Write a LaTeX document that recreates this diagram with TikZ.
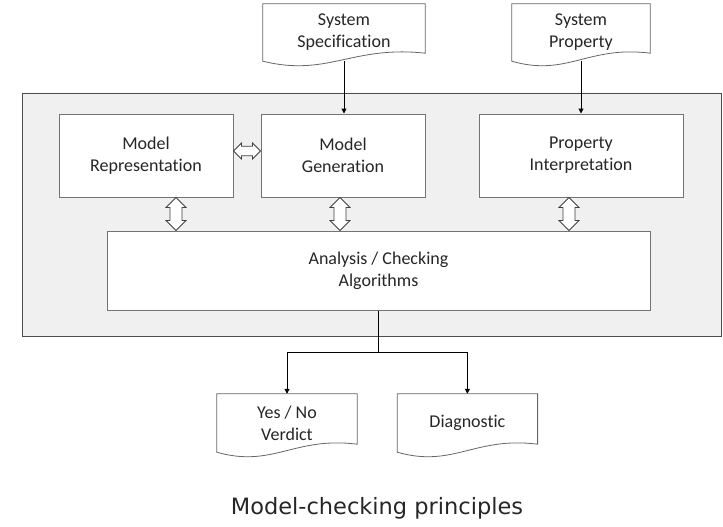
\documentclass[tikz,border=0pt]{standalone}
\usepackage{fontspec}
\setmainfont{Carlito}[Ligatures=NoCommon]
\newfontfamily\captionfont{DejaVu Sans}
\usetikzlibrary{arrows.meta, positioning, shapes.arrows, calc}

\begin{document}
\begin{tikzpicture}[
    x=1pt, y=-1pt, >={Triangle[length=5pt, width=5pt]},
    label text/.style={font=\fontsize{18}{22}\selectfont, text=black!85,
                       align=center},
    box/.style={label text, draw=black!55, line width=1pt, fill=white,
                inner sep=0pt},
    doc/.style={label text, inner sep=0pt},
    dblarrow/.style={double arrow, draw=black!75, fill=white,
                     line width=0.8pt, inner sep=5.5pt, minimum width=20pt,
                     double arrow head extend=4pt},
    link/.style={line width=1pt, black}
  ]
  \useasboundingbox (0,0) rectangle (723,527);

  % grey frame round the checker
  \node[draw=black!70, fill=black!6, line width=1pt, minimum width=699pt,
        minimum height=243pt] (frame) at (371.5,214.5) {};

  % inputs
  \node[doc, minimum width=162pt, minimum height=57pt] (spec) at (344,32.5)
    {System\\Specification};
  \node[doc, minimum width=138pt, minimum height=57pt] (prop) at (581,32.5)
    {System\\Property};

  % checker blocks
  \node[box, minimum width=174pt, minimum height=83pt] (rep) at (146,155.5)
    {Model\\Representation};
  \node[box, minimum width=164pt, minimum height=83pt] (gen) at (343,155.5)
    {Model\\Generation};
  \node[box, minimum width=204pt, minimum height=83pt] (interp) at (581,155.5)
    {Property\\Interpretation};
  \node[box, minimum width=543pt, minimum height=79pt] (check) at (378.5,270.5)
    {Analysis / Checking\\Algorithms};

  % outputs
  \node[doc, minimum width=140pt, minimum height=58pt] (verdict) at (287,423)
    {Yes / No\\Verdict};
  \node[doc, minimum width=140pt, minimum height=58pt,
        right=40pt of verdict] (diag) {Diagnostic};

  % document outlines with wavy bottom
  \foreach \d in {spec, prop, verdict, diag}
    \draw[draw=black!60, line width=0.8pt, fill=white]
      (\d.north west) -- (\d.north east) -- ([yshift=8pt]\d.south east)
      .. controls ($(\d.south west)!0.55!(\d.south east)+(0pt,16pt)$)
         and ($(\d.south west)!0.4!(\d.south east)+(0pt,-16pt)$) ..
      (\d.south west) -- cycle;
  \node[doc] at (spec) {System\\Specification};
  \node[doc] at (prop) {System\\Property};
  \node[doc] at (verdict) {Yes / No\\Verdict};
  \node[doc] at (diag) {Diagnostic};

  % hollow two-way arrows
  \node[dblarrow, minimum height=27pt, minimum width=16pt, inner sep=4pt,
        double arrow head extend=3pt] (repgen) at (247,151) {};
  \node[dblarrow, rotate=90, minimum height=33pt] (repcheck) at (176,214) {};
  \node[dblarrow, rotate=90, minimum height=33pt] (gencheck) at (340,214) {};
  \node[dblarrow, rotate=90, minimum height=33pt] (intcheck) at (569,214) {};

  % connectors
  \draw[link, ->] (spec.south) -- (spec.south |- gen.north);
  \draw[link, ->] (prop.south) -- (prop.south |- interp.north);
  \coordinate (split) at (check.south |- 0,352);
  \draw[link] (check.south) -- (split);
  \draw[link, ->] (split) -| (verdict.north);
  \draw[link, ->] (split) -| (diag.north);

  \node[font=\captionfont\fontsize{22.5}{26}\selectfont, text=black!85]
    (title) at (377,508) {Model-checking principles};
\end{tikzpicture}
\end{document}
